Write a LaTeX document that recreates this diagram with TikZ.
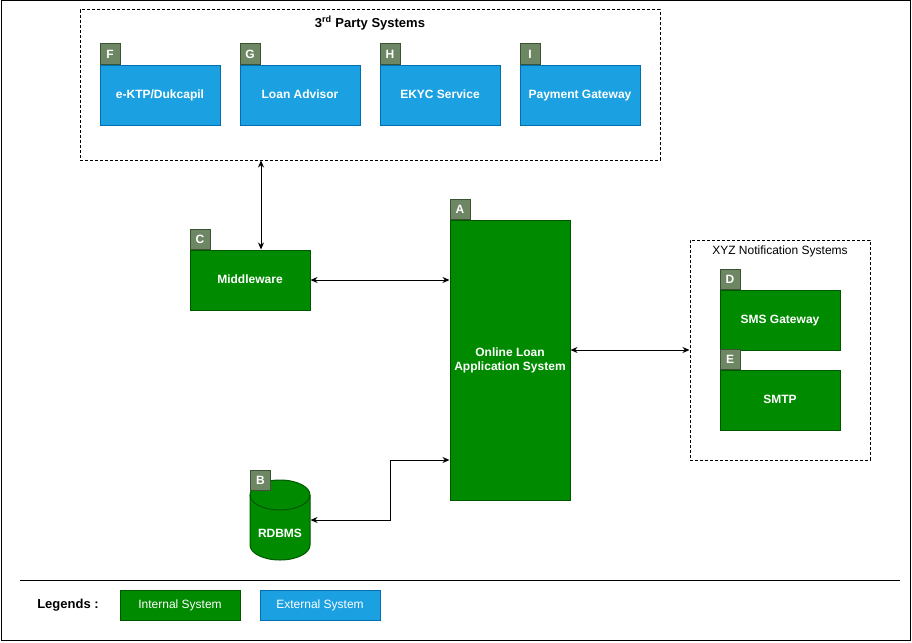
\documentclass[tikz,border=0pt]{standalone}
\usepackage{fontspec}
\setmainfont{Liberation Sans}
\usetikzlibrary{arrows.meta, positioning}
\definecolor{intfill}{HTML}{008A00}
\definecolor{intline}{HTML}{005700}
\definecolor{extfill}{HTML}{1BA1E2}
\definecolor{extline}{HTML}{006EAF}
\definecolor{tagfill}{HTML}{6D8764}
\definecolor{tagline}{HTML}{3A5431}

\begin{document}
\begin{tikzpicture}[
    x=1pt, y=-1pt, line width=1pt,
    sys/.style={draw, minimum width=120pt, minimum height=60pt, inner sep=0, text=white, font=\fontsize{12}{14}\selectfont\bfseries},
    internal/.style={sys, fill=intfill, draw=intline, text height=9pt, text depth=2.5pt},
    external/.style={sys, fill=extfill, draw=extline, text height=9pt, text depth=2.5pt},
    tag/.style={draw=tagline, fill=tagfill, minimum size=20pt, inner sep=0, text=white, font=\fontsize{12}{14}\selectfont\bfseries},
    group/.style={draw, dash pattern=on 3pt off 2pt, inner sep=0},
    legbox/.style={minimum height=30pt, font=\fontsize{12}{14}\selectfont},
    arr/.style={<->, >={Stealth[length=7pt, width=6pt]}}
]
\useasboundingbox (0,0) rectangle (912,642);
\draw (1,1) rectangle (910,640);

% 3rd party systems
\node[group, minimum width=580pt, minimum height=150pt] (party) at (370,85) {};
\node[below=3pt of party.north, font=\fontsize{13}{15}\selectfont\bfseries] (partyt) {3\textsuperscript{rd} Party Systems};
\node[external] (f) at (160,95) {e-KTP/Dukcapil};
\node[external] (g) at (300,95) {Loan Advisor};
\node[external] (h) at (440,95) {EKYC Service};
\node[external] (i) at (580,95) {Payment Gateway};
\node[tag, above right=0pt of f.north west] (ft) {F};
\node[tag, above right=0pt of g.north west] (gt) {G};
\node[tag, above right=0pt of h.north west] (ht) {H};
\node[tag, above right=0pt of i.north west] (it) {I};

% internal systems
\node[internal] (mw) at (250,280) {Middleware};
\node[tag, above right=0pt of mw.north west] (mwt) {C};
\node[sys, fill=intfill, draw=intline, minimum height=280pt, align=center] (a) at (510,360) {Online Loan\\Application System};
\node[tag, above right=0pt of a.north west] (at) {A};

% database
\node[minimum width=60pt, minimum height=80pt, inner sep=0] (rdb) at (280,520) {};
\fill[intfill] (250,495) -- (250,545) arc[start angle=180, end angle=0, x radius=30, y radius=15]
    -- (310,495) arc[start angle=0, end angle=-180, x radius=30, y radius=15] -- cycle;
\draw[intline] (250,495) -- (250,545) arc[start angle=180, end angle=0, x radius=30, y radius=15]
    -- (310,495) arc[start angle=0, end angle=-180, x radius=30, y radius=15];
\draw[intline] (250,495) arc[start angle=180, end angle=0, x radius=30, y radius=15];
\node[text=white, font=\fontsize{12}{14}\selectfont\bfseries] (rdbt) at (280,533) {RDBMS};
\node[tag, anchor=north west] (rdbtag) at (250,470) {B};

% notification systems
\node[group, minimum width=180pt, minimum height=220pt] (nt) at (780,350) {};
\node[below=2pt of nt.north, font=\fontsize{12}{14}\selectfont] (ntt) {XYZ Notification Systems};
\node[internal] (d) at (780,320) {SMS Gateway};
\node[tag, above right=0pt of d.north west] (dt) {D};
\node[internal] (e) at (780,400) {SMTP};
\node[tag, above right=0pt of e.north west] (et) {E};

% connectors
\coordinate (m1) at ([xshift=11pt]mw.north);
\draw[arr] (party.south -| m1) -- (m1);
\draw[arr] (mw.east) -- (a.west |- mw.east);
\draw[arr] (a.east |- nt.west) -- (nt.west);
\draw[arr] (rdb.east) -- ++(80,0) |- ([yshift=-100pt]a.west);

% legend
\draw (20,580) -- (900,580);
\node[font=\fontsize{13}{15}\selectfont\bfseries] (leg) at (68,605) {Legends :};
\node[internal, legbox] (li) at (180,605) {Internal System};
\node[external, legbox] (le) at (320,605) {External System};
\end{tikzpicture}
\end{document}
